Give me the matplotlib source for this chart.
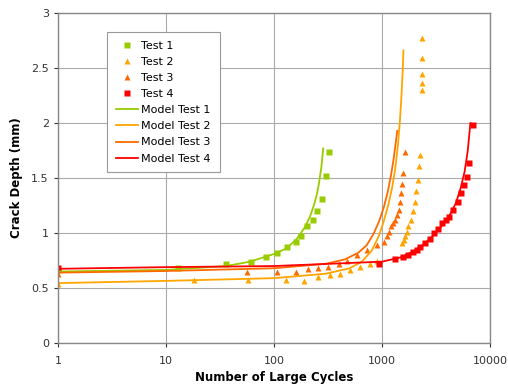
import matplotlib.pyplot as plt

# measured test data
t1_x = [1, 13, 36, 61, 85, 107, 132, 158, 179, 200, 227, 250, 275, 301, 324]
t1_y = [0.66, 0.68, 0.72, 0.74, 0.78, 0.82, 0.875, 0.92, 0.97, 1.06, 1.12, 1.2, 1.31, 1.52, 1.74]

t2_x = [1, 18, 58, 128, 188, 256, 328, 405, 500, 625, 775, 900,
        1520, 1580, 1630, 1690, 1750, 1850, 1950, 2000, 2050, 2130, 2200, 2250,
        2330, 2360, 2360, 2360, 2360]
t2_y = [0.54, 0.57, 0.57, 0.57, 0.56, 0.60, 0.62, 0.63, 0.66, 0.69, 0.72, 0.75,
        0.91, 0.94, 0.97, 1.01, 1.06, 1.12, 1.20, 1.28, 1.38, 1.48, 1.61, 1.71,
        2.45, 2.30, 2.36, 2.59, 2.77]

t3_x = [1, 56, 107, 158, 204, 256, 316, 400, 469, 580, 720, 900, 1030, 1100, 1160,
        1220, 1265, 1320, 1370, 1420, 1450, 1490, 1520, 1574, 1632]
t3_y = [0.63, 0.65, 0.65, 0.65, 0.67, 0.68, 0.69, 0.72, 0.75, 0.80, 0.85, 0.89, 0.92, 0.97, 1.01,
        1.06, 1.09, 1.12, 1.16, 1.21, 1.28, 1.36, 1.45, 1.55, 1.74]

t4_x = [1, 936, 1318, 1574, 1750, 1940, 2100, 2250, 2500, 2750, 3000, 3280, 3600, 3900,
        4170, 4560, 4990, 5350, 5750, 6040, 6300, 6900]
t4_y = [0.68, 0.72, 0.76, 0.78, 0.80, 0.83, 0.85, 0.87, 0.91, 0.95, 1.0, 1.04, 1.09, 1.12,
        1.15, 1.21, 1.28, 1.36, 1.44, 1.51, 1.64, 1.98]

# model curves
m1_x = [1, 10, 36, 60, 100, 130, 160, 192, 215, 235, 250, 262, 274, 285]
m1_y = [0.65, 0.665, 0.70, 0.74, 0.81, 0.86, 0.94, 1.05, 1.15, 1.26, 1.36, 1.47, 1.60, 1.77]

m2_x = [1, 10, 100, 300, 500, 650, 800, 920, 1030, 1130, 1230, 1320, 1400, 1460, 1510, 1550, 1574]
m2_y = [0.545, 0.565, 0.59, 0.63, 0.68, 0.74, 0.84, 0.96, 1.10, 1.24, 1.40, 1.58, 1.80, 2.02, 2.25, 2.48, 2.66]

m3_x = [1, 10, 100, 300, 450, 600, 720, 830, 940, 1040, 1130, 1210, 1280, 1340, 1380]
m3_y = [0.64, 0.655, 0.68, 0.72, 0.76, 0.82, 0.89, 0.99, 1.11, 1.24, 1.38, 1.53, 1.68, 1.83, 1.93]

m4_x = [1, 10, 100, 1000, 1500, 2000, 2500, 3000, 3600, 4200, 4800, 5300, 5800, 6200, 6550]
m4_y = [0.675, 0.69, 0.70, 0.74, 0.78, 0.84, 0.91, 0.98, 1.07, 1.16, 1.27, 1.40, 1.56, 1.75, 2.0]

green = '#99CC00'
lorange = '#FFA500'
dorange = '#FF6A00'
red = '#FF0000'

fig = plt.figure(figsize=(5.08, 3.85), dpi=100)
ax = fig.add_axes([0.114, 0.109, 0.851, 0.857])

ax.plot(t1_x, t1_y, 's', color=green, ms=5, mec='none', label='Test 1')
ax.plot(t2_x, t2_y, '^', color=lorange, ms=4, mec='none', label='Test 2')
ax.plot(t3_x, t3_y, '^', color=dorange, ms=5, mec='none', label='Test 3')
ax.plot(t4_x, t4_y, 's', color=red, ms=5, mec='none', label='Test 4')
ax.plot(m1_x, m1_y, '-', color=green, lw=1.3, label='Model Test 1')
ax.plot(m2_x, m2_y, '-', color=lorange, lw=1.3, label='Model Test 2')
ax.plot(m3_x, m3_y, '-', color=dorange, lw=1.3, label='Model Test 3')
ax.plot(m4_x, m4_y, '-', color=red, lw=1.3, label='Model Test 4')

ax.set_xscale('log')
ax.set_xlim(1, 10000)
ax.set_ylim(0, 3)
ax.set_xticks([1, 10, 100, 1000, 10000])
ax.set_xticklabels(['1', '10', '100', '1000', '10000'])
ax.minorticks_off()
ax.set_yticks([0, 0.5, 1, 1.5, 2, 2.5, 3])
ax.set_yticklabels(['0', '0.5', '1', '1.5', '2', '2.5', '3'])
ax.tick_params(labelsize=8, colors='#333333', length=3, width=0.8)
ax.tick_params(axis='x', pad=6)
ax.grid(True, color='#AAAAAA', lw=0.8)
ax.set_axisbelow(True)
for s in ax.spines.values():
    s.set_color('#888888')
    s.set_linewidth(1)

ax.set_xlabel('Number of Large Cycles', fontsize=8.5, fontweight='bold', labelpad=4)
ax.set_ylabel('Crack Depth (mm)', fontsize=8.5, fontweight='bold', labelpad=6)

leg = ax.legend(loc='upper left', bbox_to_anchor=(0.10, 0.96), fontsize=8,
                fancybox=False, framealpha=1, edgecolor='#999999',
                handlelength=2.0, labelspacing=0.55, borderpad=0.8, handletextpad=0.3)
leg.get_frame().set_linewidth(0.8)

fig.savefig('out.png', dpi=100)
